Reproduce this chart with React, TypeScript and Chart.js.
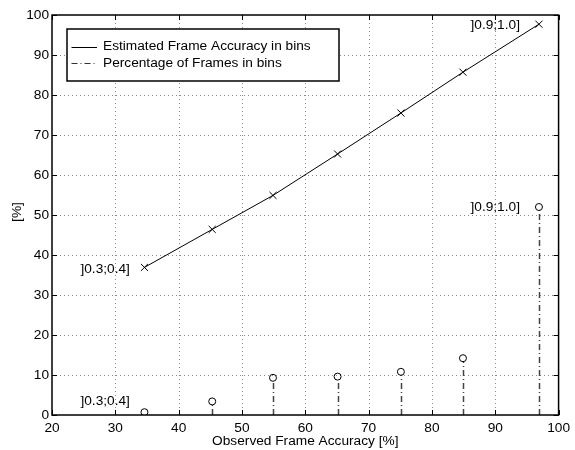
import React, { useEffect, useRef } from 'react';
import { Chart, registerables } from 'chart.js';

Chart.register(...registerables);

// ---- data ----
const observedAccuracy = [34.6, 45.3, 54.9, 65.1, 75.1, 84.9, 96.9];
const estimatedAccuracy = [36.9, 46.4, 54.9, 65.25, 75.5, 85.7, 97.7];
const framePercentage = [0.7, 3.4, 9.3, 9.6, 10.8, 14.2, 52.0];
const xTicks = [20, 30, 40, 50, 60, 70, 80, 90, 100];
const yTicks = [0, 10, 20, 30, 40, 50, 60, 70, 80, 90, 100];
const seriesNames = ['Estimated Frame Accuracy in bins', 'Percentage of Frames in bins'];
const xTitle = 'Observed Frame Accuracy [%]';
const yTitle = '[%]';
const annotationTexts = [']0.3;0.4]', ']0.9;1.0]', ']0.3;0.4]', ']0.9;1.0]'];
const annotationX = [32.3, 93.9, 32.3, 93.9];
const annotationY = [36.5, 97.5, 3.5, 52.0];

const FONT_FAMILY = '"Liberation Sans", Arial, Helvetica, sans-serif';
const FONT_SIZE = 13.7;
const FONT = `${FONT_SIZE}px ${FONT_FAMILY}`;
const STEM_DASH = [6, 3, 1, 3];

const matlabPlugin = {
  id: 'matlabStyle',
  beforeDatasetsDraw(chart: any) {
    const { ctx, chartArea: a, scales } = chart;
    const x = scales.x;
    const y = scales.y;
    ctx.save();
    // dotted grid
    ctx.strokeStyle = '#8a8a8a';
    ctx.lineWidth = 1;
    ctx.setLineDash([1, 3]);
    xTicks.forEach((v) => {
      if (v === xTicks[0] || v === xTicks[xTicks.length - 1]) return;
      const px = Math.round(x.getPixelForValue(v)) + 0.5;
      ctx.beginPath();
      ctx.moveTo(px, a.top);
      ctx.lineTo(px, a.bottom);
      ctx.stroke();
    });
    yTicks.forEach((v) => {
      if (v === yTicks[0] || v === yTicks[yTicks.length - 1]) return;
      const py = Math.round(y.getPixelForValue(v)) + 0.5;
      ctx.beginPath();
      ctx.moveTo(a.left, py);
      ctx.lineTo(a.right, py);
      ctx.stroke();
    });
    // stems
    ctx.strokeStyle = '#444';
    ctx.lineWidth = 1.5;
    ctx.setLineDash(STEM_DASH);
    observedAccuracy.forEach((xv, i) => {
      const px = Math.round(x.getPixelForValue(xv)) + 0.5;
      const y0 = y.getPixelForValue(0);
      const y1 = y.getPixelForValue(framePercentage[i]) + 3.5;
      if (y1 < y0) {
        ctx.beginPath();
        ctx.moveTo(px, y0);
        ctx.lineTo(px, y1);
        ctx.stroke();
      }
    });
    ctx.restore();
  },
  afterDatasetsDraw(chart: any) {
    const { ctx, chartArea: a, scales } = chart;
    const x = scales.x;
    const y = scales.y;
    ctx.save();
    ctx.setLineDash([]);
    // axes box
    ctx.strokeStyle = '#000';
    ctx.lineWidth = 1.5;
    ctx.strokeRect(a.left, a.top, a.right - a.left, a.bottom - a.top);
    // inward ticks
    ctx.lineWidth = 1;
    const tl = 5;
    xTicks.forEach((v) => {
      const px = Math.round(x.getPixelForValue(v)) + 0.5;
      ctx.beginPath();
      ctx.moveTo(px, a.bottom);
      ctx.lineTo(px, a.bottom - tl);
      ctx.moveTo(px, a.top);
      ctx.lineTo(px, a.top + tl);
      ctx.stroke();
    });
    yTicks.forEach((v) => {
      const py = Math.round(y.getPixelForValue(v)) + 0.5;
      ctx.beginPath();
      ctx.moveTo(a.left, py);
      ctx.lineTo(a.left + tl, py);
      ctx.moveTo(a.right, py);
      ctx.lineTo(a.right - tl, py);
      ctx.stroke();
    });
    // annotations
    ctx.fillStyle = '#000';
    ctx.font = FONT;
    ctx.textAlign = 'right';
    ctx.textBaseline = 'middle';
    annotationTexts.forEach((t, i) => {
      ctx.fillText(t, x.getPixelForValue(annotationX[i]), y.getPixelForValue(annotationY[i]));
    });
    // legend
    const lx = a.left + 15;
    const ly = a.top + 14;
    const lw = 272;
    const lh = 52;
    ctx.fillStyle = '#fff';
    ctx.fillRect(lx, ly, lw, lh);
    ctx.strokeStyle = '#000';
    ctx.lineWidth = 1.5;
    ctx.strokeRect(lx, ly, lw, lh);
    const rows = [ly + 17.7, ly + 34.3];
    ctx.lineWidth = 1;
    ctx.beginPath();
    ctx.moveTo(lx + 4.5, Math.round(rows[0]) + 0.5);
    ctx.lineTo(lx + 30, Math.round(rows[0]) + 0.5);
    ctx.stroke();
    ctx.setLineDash(STEM_DASH);
    ctx.strokeStyle = '#333';
    ctx.beginPath();
    ctx.moveTo(lx + 4.5, Math.round(rows[1]) + 0.5);
    ctx.lineTo(lx + 30, Math.round(rows[1]) + 0.5);
    ctx.stroke();
    ctx.setLineDash([]);
    ctx.fillStyle = '#000';
    ctx.textAlign = 'left';
    ctx.textBaseline = 'middle';
    ctx.fillText(seriesNames[0], lx + 36, rows[0]);
    ctx.fillText(seriesNames[1], lx + 36, rows[1]);
    // axis titles
    ctx.textAlign = 'center';
    ctx.fillText(xTitle, (a.left + a.right) / 2, 441);
    ctx.translate(17, (a.top + a.bottom) / 2 - 3);
    ctx.rotate(-Math.PI / 2);
    ctx.fillText(yTitle, 0, 0);
    ctx.restore();
  },
};

export default function App() {
  const canvasRef = useRef<HTMLCanvasElement | null>(null);

  useEffect(() => {
    document.body.style.margin = '0';
    const canvas = canvasRef.current;
    if (!canvas) return;
    const tickFont = { family: FONT_FAMILY, size: FONT_SIZE };
    const chart = new Chart(canvas, {
      type: 'line',
      data: {
        datasets: [
          {
            label: seriesNames[0],
            data: observedAccuracy.map((xv, i) => ({ x: xv, y: estimatedAccuracy[i] })),
            borderColor: '#000',
            borderWidth: 1,
            pointStyle: 'crossRot',
            pointRadius: 5,
            pointBorderColor: '#000',
            pointBorderWidth: 1,
            backgroundColor: '#000',
            tension: 0,
            fill: false,
          },
          {
            label: seriesNames[1],
            data: observedAccuracy.map((xv, i) => ({ x: xv, y: framePercentage[i] })),
            showLine: false,
            pointStyle: 'circle',
            pointRadius: 3.5,
            pointBorderColor: '#000',
            pointBackgroundColor: 'rgba(255,255,255,0)',
            pointBorderWidth: 1,
            borderColor: '#000',
          },
        ],
      },
      options: {
        responsive: false,
        animation: false,
        events: [],
        layout: { padding: { left: 0, right: 10, top: 15, bottom: 0 } },
        plugins: {
          legend: { display: false },
          tooltip: { enabled: false },
        },
        scales: {
          x: {
            type: 'linear',
            min: 20,
            max: 100,
            grid: { display: false, drawTicks: false },
            border: { display: false },
            afterFit: (s: any) => {
              s.height = 35;
            },
            ticks: {
              stepSize: 10,
              autoSkip: false,
              maxRotation: 0,
              color: '#000',
              font: tickFont,
              padding: 5,
            },
          },
          y: {
            type: 'linear',
            min: 0,
            max: 100,
            grid: { display: false, drawTicks: false },
            border: { display: false },
            afterFit: (s: any) => {
              s.width = 52;
            },
            ticks: {
              stepSize: 10,
              autoSkip: false,
              color: '#000',
              font: tickFont,
              padding: 3,
            },
          },
        },
      },
      plugins: [matlabPlugin],
    });
    return () => chart.destroy();
  }, []);

  return (
    <div style={{ position: 'absolute', left: 0, top: 0, width: 575, height: 450, background: '#fff' }}>
      <canvas ref={canvasRef} width={575} height={450} style={{ width: 575, height: 450 }} />
    </div>
  );
}
